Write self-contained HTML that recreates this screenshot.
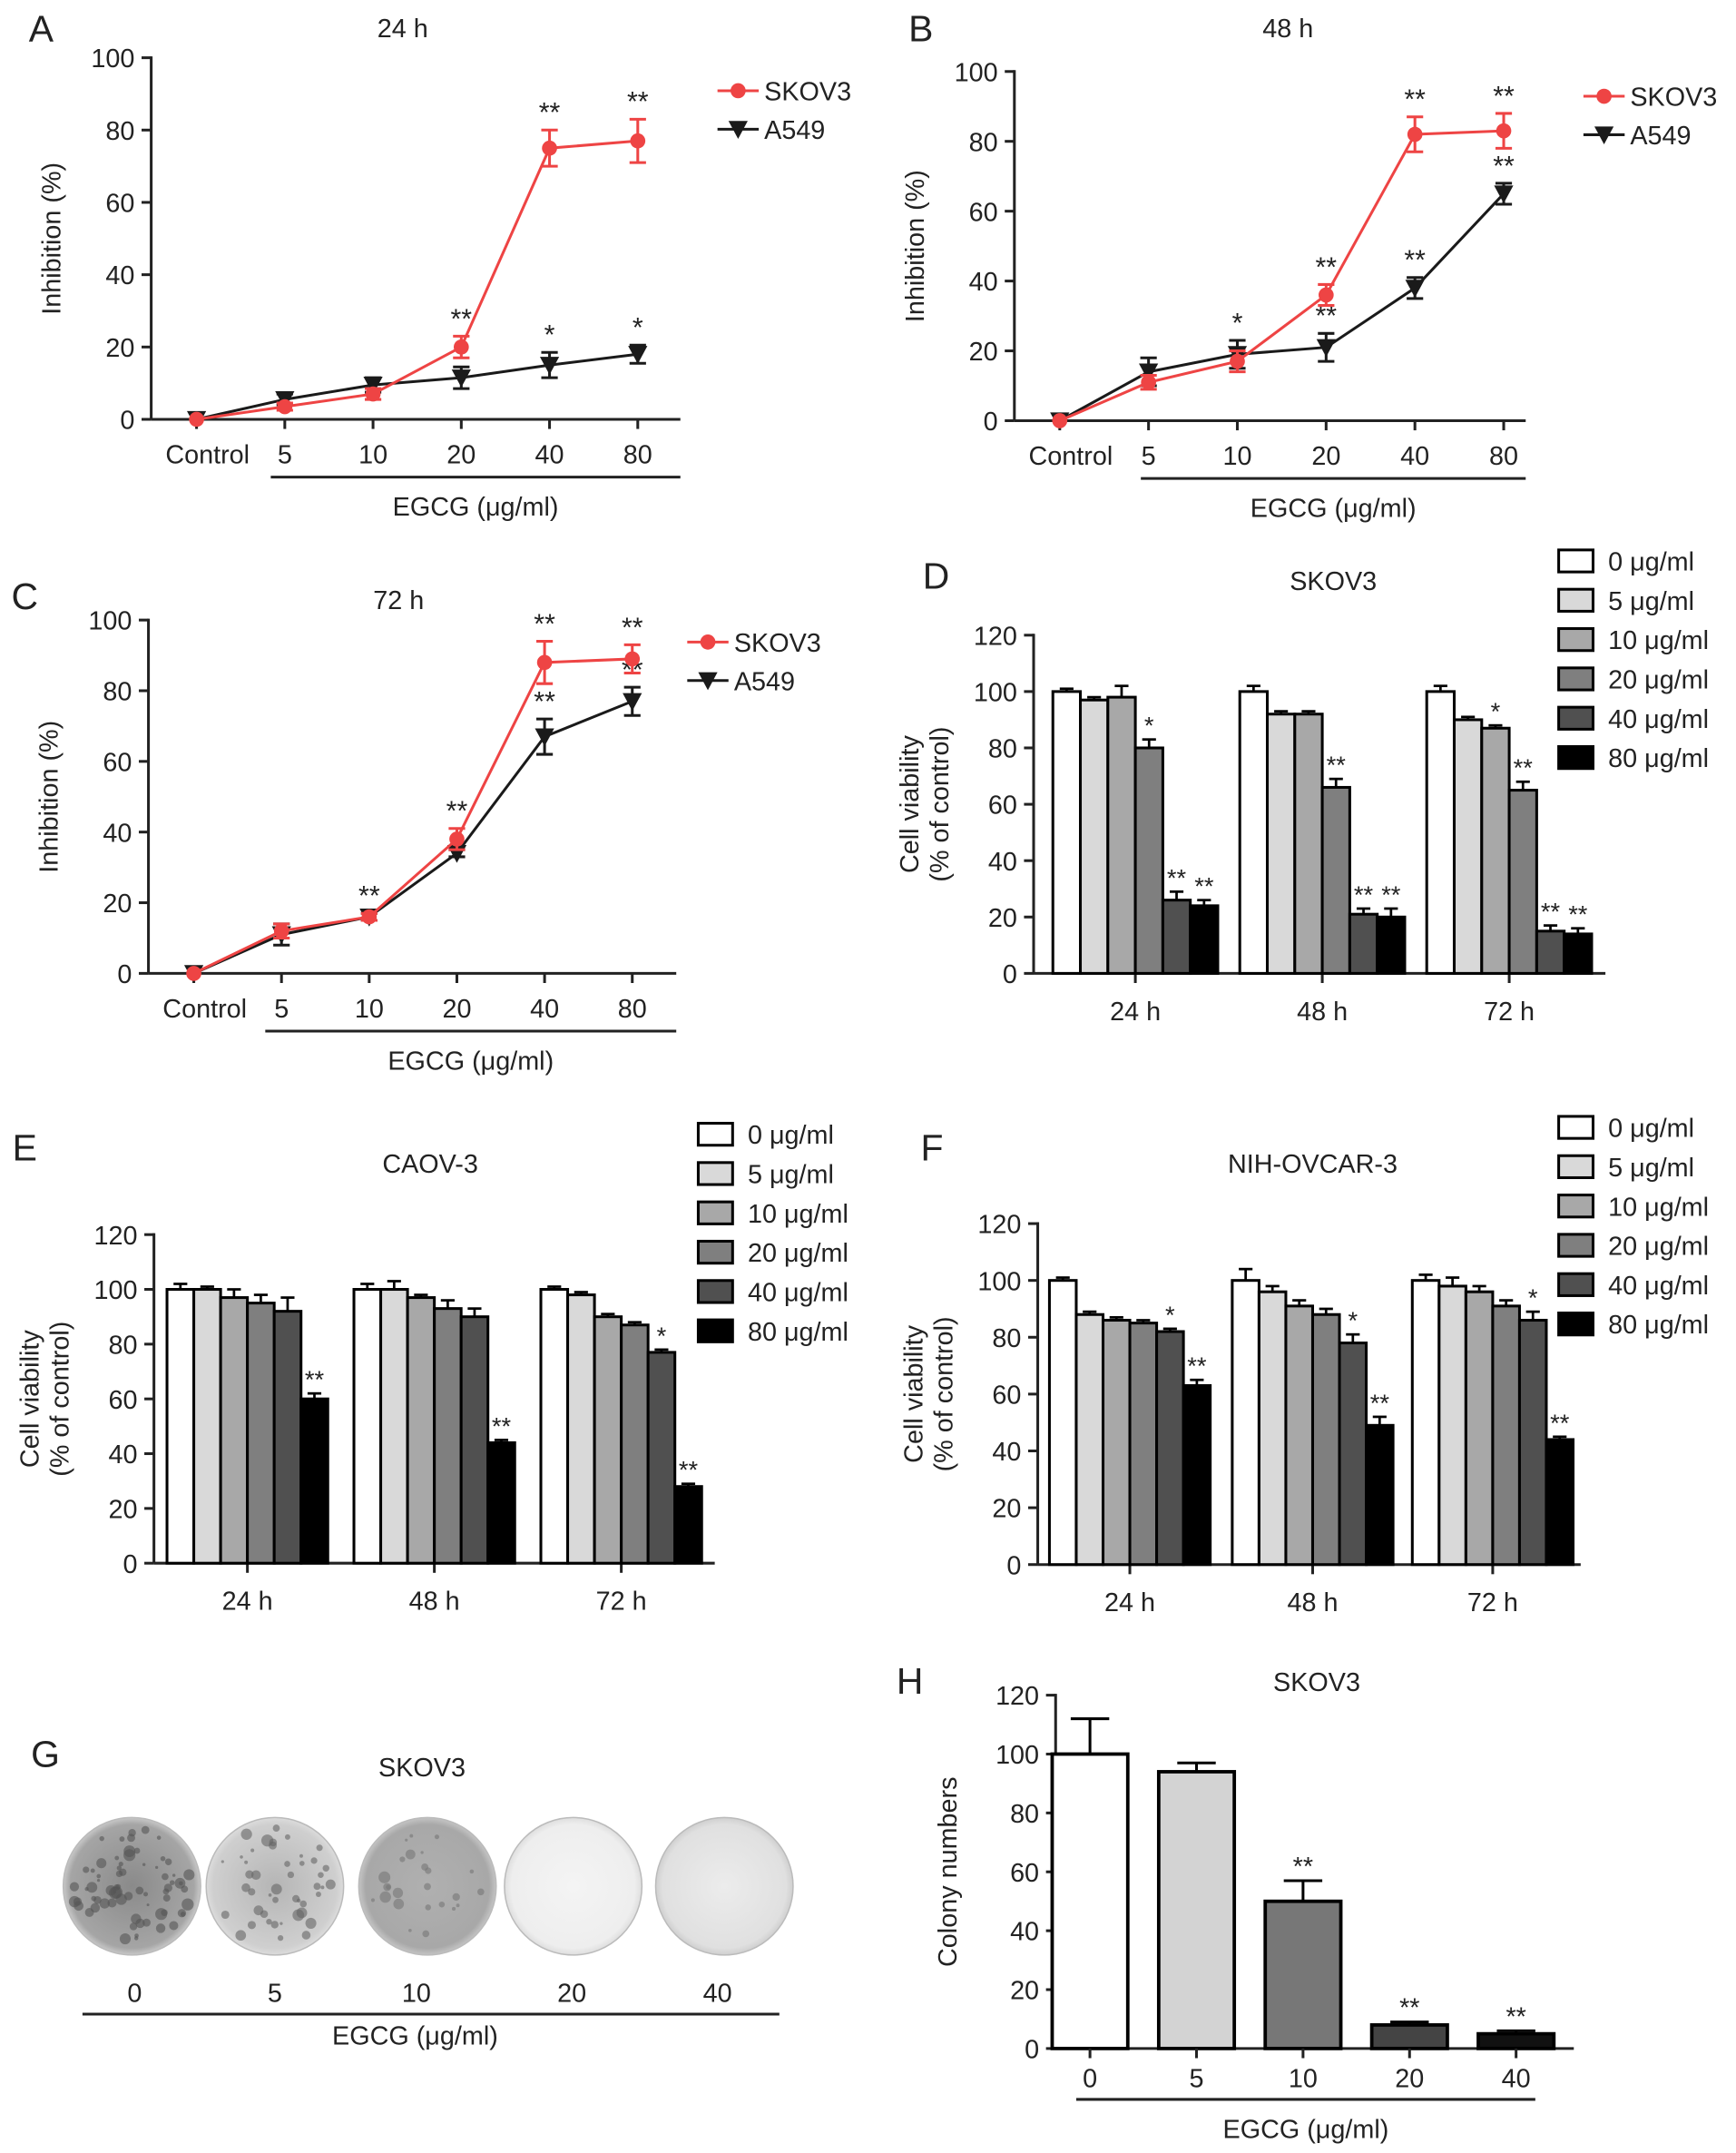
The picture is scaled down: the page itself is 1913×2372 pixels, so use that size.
<!DOCTYPE html>
<html><head><meta charset="utf-8"><style>
html,body{margin:0;padding:0;background:#fff}
svg{display:block}
text{font-family:"Liberation Sans",sans-serif;fill:#222}
</style></head><body>
<svg id="fig" width="1913" height="2372" viewBox="0 0 1263 1566" preserveAspectRatio="none" xmlns="http://www.w3.org/2000/svg">
<defs>
<radialGradient id="dishA" cx="50%" cy="50%" r="50%"><stop offset="0%" stop-color="#8a8a8a"/><stop offset="90%" stop-color="#a5a5a5"/><stop offset="100%" stop-color="#c8c8c8"/></radialGradient>
<radialGradient id="dishB" cx="50%" cy="50%" r="50%"><stop offset="0%" stop-color="#b5b5b5"/><stop offset="90%" stop-color="#cfcfcf"/><stop offset="100%" stop-color="#dcdcdc"/></radialGradient>
<radialGradient id="dishC" cx="50%" cy="50%" r="50%"><stop offset="0%" stop-color="#b0b0b0"/><stop offset="90%" stop-color="#a8a8a8"/><stop offset="100%" stop-color="#c4c4c4"/></radialGradient>
<radialGradient id="dishD" cx="50%" cy="50%" r="50%"><stop offset="0%" stop-color="#f4f4f4"/><stop offset="90%" stop-color="#eeeeee"/><stop offset="100%" stop-color="#dedede"/></radialGradient>
<radialGradient id="dishE" cx="50%" cy="50%" r="50%"><stop offset="0%" stop-color="#ececec"/><stop offset="90%" stop-color="#e0e0e0"/><stop offset="100%" stop-color="#cfcfcf"/></radialGradient>
</defs>
</svg>
<script>
// ---------- data ----------
const lineCats = ["Control","5","10","20","40","80"];
const A_skov = [0,3.5,7,20,75,77];
const A_skovErr = [0,1,1.5,3,5,6];
const A_a549 = [0,5.5,9.5,11.5,15,18];
const A_a549Err = [0,1.5,2,3,3.5,2.5];
const A_skovStars = ["","","","**","**","**"];
const A_a549Stars = ["","","","","*","*"];
const B_skov = [0,11,17,36,82,83];
const B_skovErr = [0,2,3,3,5,5];
const B_a549 = [0,14,19,21,38,65];
const B_a549Err = [0,4,4,4,3,3];
const B_skovStars = ["","","","**","**","**"];
const B_a549Stars = ["","","*","**","**","**"];
const C_skov = [0,12,16,38,88,89];
const C_skovErr = [0,2,1,3,6,4];
const C_a549 = [0,11,16,34,67,77];
const C_a549Err = [0,3,1,1,5,4];
const C_skovStars = ["","","**","**","**","**"];
const C_a549Stars = ["","","","","**","**"];
const lineTicks = [0,20,40,60,80,100];

const groups = ["24 h","48 h","72 h"];
const doseLabels = ["0 μg/ml","5 μg/ml","10 μg/ml","20 μg/ml","40 μg/ml","80 μg/ml"];
const D_vals = [[100,97,98,80,26,24],[100,92,92,66,21,20],[100,90,87,65,15,14]];
const D_err = [[1,1,4,3,3,2],[2,1,1,3,2,3],[2,1,1,3,2,2]];
const D_stars = [["","","","*","**","**"],["","","","**","**","**"],["","","*","**","**","**"]];
const E_vals = [[100,100,97,95,92,60],[100,100,97,93,90,44],[100,98,90,87,77,28]];
const E_err = [[2,1,3,3,5,2],[2,3,1,3,3,1],[1,1,1,1,1,1]];
const E_stars = [["","","","","","**"],["","","","","","**"],["","","","","*","**"]];
const F_vals = [[100,88,86,85,82,63],[100,96,91,88,78,49],[100,98,96,91,86,44]];
const F_err = [[1,1,1,1,1,2],[4,2,2,2,3,3],[2,3,2,2,3,1]];
const F_stars = [["","","","","*","**"],["","","","","*","**"],["","","","","*","**"]];
const barTicks = [0,20,40,60,80,100,120];

const H_cats = ["0","5","10","20","40"];
const H_vals = [100,94,50,8,5];
const H_err = [12,3,7,1,1];
const H_stars = ["","","**","**","**"];

// ---------- helpers ----------
const NS="http://www.w3.org/2000/svg";
const svg=document.getElementById('fig');
function el(tag,attrs,parent,txt){const e=document.createElementNS(NS,tag);for(const k in attrs)e.setAttribute(k,attrs[k]);if(txt!==undefined)e.textContent=txt;(parent||svg).appendChild(e);return e;}
function grp(name){const g=el('g',{});return g;}
function txt(p,x,y,s,size,anchor,name,extra){const t=el('text',Object.assign({x:x,y:y,'font-size':size,'text-anchor':anchor||'middle'},extra||{}),p,s);return t;}
function lin(p,x1,y1,x2,y2,w,c,name){const l=el('line',{x1,y1,x2,y2,stroke:c||'#222','stroke-width':w||2},p);return l;}

function yAxis(g,ax,y0,yTop,maxV,ticks,fs){
  const sy=v=>y0-(y0-yTop)*v/maxV;
  lin(g,ax,sy(maxV)-1,ax,y0,2,'#222','y-axis-line');
  ticks.forEach(t=>{lin(g,ax-7,sy(t),ax,sy(t),2,'#222','y-tick');txt(g,ax-12,sy(t)+7,String(t),fs||19,'end','y-tick-label');});
  return sy;
}

function linePanel(cfg){
  const g=grp(cfg.name);
  txt(g,cfg.letterX,cfg.letterY,cfg.letter,27,'middle','panel-letter');
  txt(g,cfg.titleX,cfg.titleY,cfg.title,19,'middle','chart-title');
  const sy=yAxis(g,cfg.ax,cfg.y0,cfg.yTop,100,lineTicks);
  const sx=i=>cfg.x0+cfg.dx*i;
  lin(g,cfg.ax,cfg.y0,cfg.axEnd,cfg.y0,2,'#222','x-axis-line');
  lineCats.forEach((c,i)=>{lin(g,sx(i),cfg.y0,sx(i),cfg.y0+7,2,'#222','x-tick');txt(g,sx(i)+(i===0?8:0),cfg.y0+32,c,19,'middle','x-tick-label');});
  lin(g,cfg.ulX1,cfg.y0+42,cfg.axEnd,cfg.y0+42,2,'#222','egcg-underline');
  txt(g,(cfg.ulX1+cfg.axEnd)/2,cfg.y0+70,'EGCG (μg/ml)',19,'middle','x-axis-title');
  txt(g,0,0,'Inhibition (%)',19,'middle','y-axis-title',{transform:`translate(${cfg.ax-66},${(cfg.y0+cfg.yTop)/2}) rotate(-90)`});
  const series=[{v:cfg.a549,e:cfg.a549Err,s:cfg.a549Stars,c:'#1a1a1a',n:'a549',tri:true},{v:cfg.skov,e:cfg.skovErr,s:cfg.skovStars,c:'#ee4444',n:'skov3',tri:false}];
  series.forEach(S=>{
    const sg=grp('series-'+S.n);g.appendChild(sg);
    const pts=S.v.map((v,i)=>sx(i)+','+sy(v)).join(' ');
    const pl=el('polyline',{points:pts,fill:'none',stroke:S.c,'stroke-width':2},sg);
    S.v.forEach((v,i)=>{
      const x=sx(i),y=sy(v),e=S.e[i];
      if(e>0){lin(sg,x,sy(v+e),x,sy(v-e),2,S.c,'error-bar');lin(sg,x-6,sy(v+e),x+6,sy(v+e),2,S.c,'error-cap');lin(sg,x-6,sy(v-e),x+6,sy(v-e),2,S.c,'error-cap');}
      let m;
      if(S.tri){m=el('polygon',{points:`${x-7},${y-6} ${x+7},${y-6} ${x},${y+7}`,fill:S.c},sg);}
      else{m=el('circle',{cx:x,cy:y,r:5.5,fill:S.c},sg);}
      
      if(S.s[i]) txt(sg,x,sy(v+e)-6,S.s[i],20,'middle','significance-star');
    });
  });
  const lg=grp('legend');g.appendChild(lg);
  lin(lg,cfg.legX,cfg.legY,cfg.legX+30,cfg.legY,2,'#ee4444','legend-skov3-line');
  const c=el('circle',{cx:cfg.legX+15,cy:cfg.legY,r:5.5,fill:'#ee4444'},lg);
  txt(lg,cfg.legX+34,cfg.legY+7,'SKOV3',19,'start','legend-skov3');
  const y2=cfg.legY+28,xm=cfg.legX+15;
  lin(lg,cfg.legX,y2,cfg.legX+30,y2,2,'#1a1a1a','legend-a549-line');
  const t=el('polygon',{points:`${xm-7},${y2-6} ${xm+7},${y2-6} ${xm},${y2+7}`,fill:'#1a1a1a'},lg);
  txt(lg,cfg.legX+34,y2+7,'A549',19,'start','legend-a549');
}

linePanel({name:'panel-a',letter:'A',letterX:30,letterY:30,title:'24 h',titleX:293,titleY:27,ax:110,y0:305,yTop:42,x0:143,dx:64.2,axEnd:495,ulX1:197,
  skov:A_skov,skovErr:A_skovErr,a549:A_a549,a549Err:A_a549Err,skovStars:A_skovStars,a549Stars:A_a549Stars,legX:522,legY:66});
linePanel({name:'panel-b',letter:'B',letterX:670,letterY:30,title:'48 h',titleX:937,titleY:27,ax:738,y0:306,yTop:52,x0:771,dx:64.6,axEnd:1110,ulX1:830,
  skov:B_skov,skovErr:B_skovErr,a549:B_a549,a549Err:B_a549Err,skovStars:B_skovStars,a549Stars:B_a549Stars,legX:1152,legY:70});
linePanel({name:'panel-c',letter:'C',letterX:18,letterY:443,title:'72 h',titleX:290,titleY:443,ax:108,y0:708,yTop:451,x0:141,dx:63.8,axEnd:492,ulX1:193,
  skov:C_skov,skovErr:C_skovErr,a549:C_a549,a549Err:C_a549Err,skovStars:C_skovStars,a549Stars:C_a549Stars,legX:500,legY:467});

const barColors=['#ffffff','#d9d9d9','#a8a8a8','#7f7f7f','#505050','#000000'];
function barPanel(cfg){
  const g=grp(cfg.name);
  txt(g,cfg.letterX,cfg.letterY,cfg.letter,27,'middle','panel-letter');
  txt(g,cfg.titleX,cfg.titleY,cfg.title,19,'middle','chart-title');
  const sy=yAxis(g,cfg.ax,cfg.y0,cfg.yTop,120,barTicks);
  lin(g,cfg.ax,cfg.y0,cfg.axEnd,cfg.y0,2,'#222','x-axis-line');
  txt(g,0,0,'Cell viability',19,'middle','y-axis-title',{transform:`translate(${cfg.ax-84},${(cfg.y0+cfg.yTop)/2}) rotate(-90)`});
  txt(g,0,0,'(% of control)',19,'middle','y-axis-title-2',{transform:`translate(${cfg.ax-62},${(cfg.y0+cfg.yTop)/2}) rotate(-90)`});
  const bw=cfg.bw;
  groups.forEach((gn,gi)=>{
    const cx=cfg.gx[gi];
    lin(g,cx,cfg.y0,cx,cfg.y0+7,2,'#222','x-tick');
    txt(g,cx,cfg.y0+34,gn,19,'middle','x-tick-label');
    cfg.vals[gi].forEach((v,i)=>{
      const x=cx-3*bw+i*bw,y=sy(v),e=cfg.err[gi][i],xc=x+bw/2;
      lin(g,xc,sy(v+e),xc,y,1.8,'#000','error-bar');lin(g,xc-5,sy(v+e),xc+5,sy(v+e),1.8,'#000','error-cap');
      const r=el('rect',{x:x,y:y,width:bw,height:cfg.y0-y,fill:barColors[i],stroke:'#000','stroke-width':2},g);
      
      if(cfg.stars[gi][i]) txt(g,xc,sy(v+e)-4,cfg.stars[gi][i],18,'middle','significance-star');
    });
  });
  const lg=grp('legend');g.appendChild(lg);
  doseLabels.forEach((d,i)=>{
    const y=cfg.legY+i*28.6;
    const r=el('rect',{x:cfg.legX,y:y-8,width:25,height:16,fill:barColors[i],stroke:'#000','stroke-width':2},lg);
    
    txt(lg,cfg.legX+36,y+7,d,19,'start','legend-label');
  });
}
barPanel({name:'panel-d',letter:'D',letterX:681,letterY:428,title:'SKOV3',titleX:970,titleY:429,ax:752,y0:708,yTop:462,axEnd:1168,gx:[826,962,1098],bw:20,vals:D_vals,err:D_err,stars:D_stars,legX:1134,legY:408});
barPanel({name:'panel-e',letter:'E',letterX:18,letterY:844,title:'CAOV-3',titleX:313,titleY:853,ax:112,y0:1137,yTop:898,axEnd:520,gx:[180,316,452],bw:19.5,vals:E_vals,err:E_err,stars:E_stars,legX:508,legY:825});
barPanel({name:'panel-f',letter:'F',letterX:678,letterY:844,title:'NIH-OVCAR-3',titleX:955,titleY:853,ax:755,y0:1138,yTop:890,axEnd:1150,gx:[822,955,1086],bw:19.5,vals:F_vals,err:F_err,stars:F_stars,legX:1134,legY:820});

// Panel G
(function(){
  const g=grp('panel-g');
  txt(g,33,1285,'G',27,'middle','panel-letter');
  txt(g,307,1292,'SKOV3',19,'middle','chart-title');
  const cx=[96,200,311,417,527],fills=['url(#dishA)','url(#dishB)','url(#dishC)','url(#dishD)','url(#dishE)'],labels=["0","5","10","20","40"],lx=[98,200,303,416,522];
  const dens=[70,45,25,0,0],dot=['#555','#666','#777','#000','#000'];
  let seed=7;const rnd=()=>{seed=(seed*9301+49297)%233280;return seed/233280;};
  cx.forEach((x,i)=>{
    const c=el('circle',{cx:x,cy:1372,r:50,fill:fills[i],stroke:'#bbb','stroke-width':1},g);
    
    for(let k=0;k<dens[i];k++){const a=rnd()*6.283,rr=Math.sqrt(rnd())*44;const d=el('circle',{cx:x+rr*Math.cos(a),cy:1372+rr*Math.sin(a),r:1+rnd()*3.5,fill:dot[i],opacity:0.6},g);}
    txt(g,lx[i],1456,labels[i],19,'middle','dose-label');
  });
  lin(g,60,1465,567,1465,2,'#222','egcg-underline');
  txt(g,302,1487,'EGCG (μg/ml)',19,'middle','x-axis-title');
})();

// Panel H
(function(){
  const g=grp('panel-h');
  txt(g,662,1232,'H',27,'middle','panel-letter');
  txt(g,958,1230,'SKOV3',19,'middle','chart-title');
  const ax=768,y0=1490,yTop=1233;
  const sy=yAxis(g,ax,y0,yTop,120,barTicks);
  lin(g,ax,y0,1145,y0,2,'#222','x-axis-line');
  txt(g,0,0,'Colony numbers',19,'middle','y-axis-title',{transform:`translate(${ax-72},${(y0+yTop)/2}) rotate(-90)`});
  const cols=['#ffffff','#d3d3d3','#777777','#444444','#111111'];
  const sx=i=>793+77.5*i,bw=55;
  H_cats.forEach((c,i)=>{
    const x=sx(i),v=H_vals[i],e=H_err[i];
    lin(g,x,sy(v+e),x,sy(v),2,'#000','error-bar');lin(g,x-14,sy(v+e),x+14,sy(v+e),2,'#000','error-cap');
    const r=el('rect',{x:x-bw/2,y:sy(v),width:bw,height:y0-sy(v),fill:cols[i],stroke:'#000','stroke-width':2.5},g);
    
    if(H_stars[i]) txt(g,x,sy(v+e)-4,H_stars[i],19,'middle','significance-star');
    lin(g,x,y0,x,y0+7,2,'#222','x-tick');
    txt(g,x,y0+28,c,19,'middle','x-tick-label');
  });
  lin(g,783,1527,1117,1527,2,'#222','egcg-underline');
  txt(g,950,1555,'EGCG (μg/ml)',19,'middle','x-axis-title');
})();
</script>
</body></html>
